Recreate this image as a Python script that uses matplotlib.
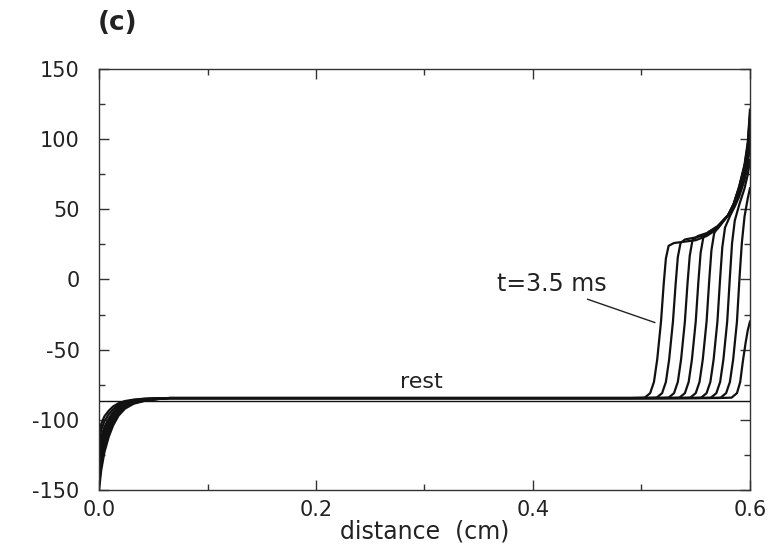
import matplotlib
matplotlib.use("Agg")
import matplotlib.pyplot as plt
from matplotlib.ticker import MultipleLocator

plt.rcParams['font.family'] = ['DejaVu Sans']

# ---- data ----
rest_value = -86.5

# recovery near the left boundary (shared distance grid, one value row per curve)
x_left = [0.0, 0.002, 0.005, 0.009, 0.013, 0.018, 0.024, 0.032, 0.042, 0.055, 0.065]
v_left = [
    [-150, -136, -123, -112, -104, -97, -92, -88.5, -86.5, -85.2, -84.5],
    [-146, -132, -120, -110, -102.5, -96, -91.2, -88.1, -86.3, -85.1, -84.5],
    [-141, -128, -117, -108, -101, -95, -90.5, -87.7, -86.1, -85.0, -84.5],
    [-136, -124, -114, -106, -99.5, -94, -89.8, -87.3, -85.9, -84.9, -84.5],
    [-131, -120, -111, -103.5, -98, -93, -89.2, -87, -85.7, -84.8, -84.5],
    [-126, -116, -108, -101, -96, -91.5, -88.5, -86.6, -85.5, -84.8, -84.5],
    [-121, -112, -105, -99, -94.5, -90.5, -88, -86.3, -85.3, -84.7, -84.5],
    [-115, -107, -101, -96, -92.5, -89.3, -87.3, -85.9, -85.1, -84.6, -84.5],
    [-110, -103, -97.5, -93.5, -90.5, -88.2, -86.6, -85.6, -84.9, -84.6, -84.5],
]

# propagating fronts near the right end (one x/v list per time step)
x_front = [
    [0.490, 0.503, 0.508, 0.5115, 0.5145, 0.518, 0.5205, 0.5225, 0.525, 0.530, 0.540, 0.550, 0.560, 0.570, 0.580, 0.585, 0.590, 0.595, 0.598, 0.600],
    [0.500, 0.514, 0.519, 0.5225, 0.5255, 0.529, 0.5315, 0.5335, 0.536, 0.540, 0.550, 0.560, 0.570, 0.580, 0.585, 0.590, 0.595, 0.598, 0.600],
    [0.510, 0.525, 0.530, 0.5335, 0.5365, 0.540, 0.5425, 0.5445, 0.547, 0.552, 0.560, 0.570, 0.580, 0.585, 0.590, 0.595, 0.598, 0.600],
    [0.520, 0.535, 0.540, 0.5435, 0.5465, 0.550, 0.5525, 0.5545, 0.557, 0.562, 0.570, 0.580, 0.585, 0.590, 0.595, 0.598, 0.600],
    [0.530, 0.545, 0.550, 0.5535, 0.5565, 0.560, 0.5625, 0.5645, 0.567, 0.572, 0.580, 0.585, 0.590, 0.595, 0.598, 0.600],
    [0.540, 0.555, 0.560, 0.5635, 0.5665, 0.570, 0.5725, 0.5745, 0.577, 0.582, 0.586, 0.590, 0.595, 0.598, 0.600],
    [0.550, 0.564, 0.569, 0.5725, 0.5755, 0.579, 0.5815, 0.5835, 0.586, 0.590, 0.595, 0.598, 0.600],
    [0.560, 0.573, 0.578, 0.5815, 0.5845, 0.588, 0.5905, 0.5925, 0.595, 0.598, 0.600],
    [0.570, 0.583, 0.588, 0.591, 0.5935, 0.596, 0.598, 0.600],
]
v_front = [
    [-84.5, -84.2, -81, -73, -57, -30, -3, 15, 24, 26, 27, 28, 31, 36, 46, 54, 66, 82, 98, 121],
    [-84.5, -84.2, -81, -73, -57, -30, -3, 16, 26, 28.5, 30, 32, 36.5, 46, 54, 66, 81, 96, 118],
    [-84.5, -84.2, -81, -73, -57, -30, -2, 17, 28, 31, 33, 37, 46, 53.5, 65, 80, 94, 115],
    [-84.5, -84.2, -81, -73, -57, -30, -1, 19, 30, 34, 38, 46, 53, 64, 78, 91, 110],
    [-84.5, -84.2, -81, -73, -57, -30, 0, 21, 33, 39, 46, 52, 62, 75, 87, 104],
    [-84.5, -84.2, -81, -73, -57, -30, 1, 23, 37, 46, 52, 59, 71, 82, 96],
    [-84.5, -84.2, -81, -73, -57, -30, 2, 26, 42, 53, 65, 75, 85],
    [-84.5, -84.2, -81, -73, -57, -30, 3, 26, 45, 58, 65],
    [-84.5, -84.2, -81, -73, -58, -45, -36, -30],
]

x_ticks = [0.0, 0.2, 0.4, 0.6]
x_ticklabels = ["0.0", "0.2", "0.4", "0.6"]
y_ticks = [-150, -100, -50, 0, 50, 100, 150]
y_ticklabels = ["-150", "-100", "-50", "0", "50", "100", "150"]

panel_label = "(c)"
x_label = "distance  (cm)"
rest_label = "rest"
time_label = "t=3.5 ms"

# ---- figure ----
fig = plt.figure(figsize=(7.84, 5.46), dpi=100)
ax = fig.add_axes([0.1263, 0.1026, 0.8303, 0.7710])

ink = "#111111"
for vl_row, xf_row, vf_row in zip(v_left, x_front, v_front):
    ax.plot(list(x_left) + list(xf_row), list(vl_row) + list(vf_row),
            color=ink, lw=1.6, solid_joinstyle='round')

ax.axhline(rest_value, color=ink, lw=1.0)

ax.text(0.297, -80.5, rest_label, ha='center', va='bottom', fontsize=16, color='#222222')
ax.annotate(time_label, xy=(0.5124, -30.7), xytext=(0.367, -3.5),
            ha='left', va='center', fontsize=17, color='#222222',
            arrowprops=dict(arrowstyle='-', color='#222222', lw=1.0,
                            shrinkA=0, shrinkB=0, relpos=(0.75, 0.0)))

ax.set_xlim(0.0, 0.6)
ax.set_ylim(-150, 150)
ax.set_xticks(x_ticks)
ax.set_xticklabels(x_ticklabels)
ax.set_yticks(y_ticks)
ax.set_yticklabels(y_ticklabels)
ax.xaxis.set_minor_locator(MultipleLocator(0.1))
ax.yaxis.set_minor_locator(MultipleLocator(25))

ax.tick_params(which='both', direction='in', top=True, right=True, colors='#333333',
               labelcolor='#222222', labelsize=15)
ax.tick_params(which='major', length=7, width=1.0)
ax.tick_params(which='minor', length=4, width=1.0)
ax.tick_params(axis='y', pad=14)
ax.tick_params(axis='x', pad=7)

for s in ax.spines.values():
    s.set_color('#333333')
    s.set_linewidth(1.0)

ax.set_xlabel(x_label, fontsize=17, color='#222222', labelpad=0)

fig.text(0.1505, 0.958, panel_label, ha='center', va='center', fontsize=19,
         fontweight='bold', color='#222222')

fig.savefig("out.png", dpi=100)
